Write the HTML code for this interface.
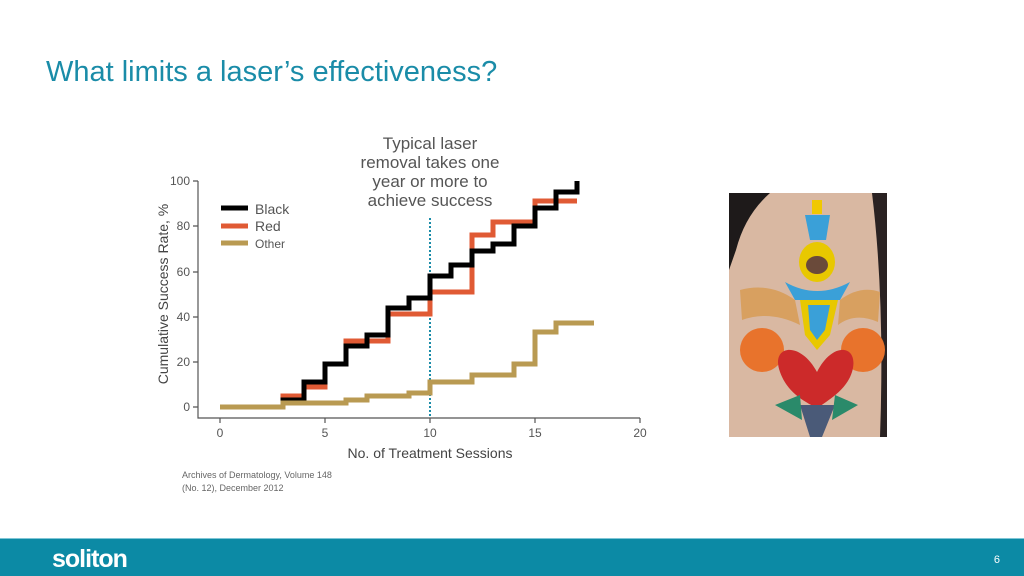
<!DOCTYPE html>
<html><head><meta charset="utf-8"><style>
html,body{margin:0;padding:0;width:1024px;height:576px;overflow:hidden;background:#fff;font-family:"Liberation Sans",sans-serif}
</style></head><body>
<svg width="1024" height="576" viewBox="0 0 1024 576" xmlns="http://www.w3.org/2000/svg" font-family="Liberation Sans, sans-serif">
<text x="46" y="81" font-size="29" fill="#1a8ca8">What limits a laser’s effectiveness?</text>
<g font-size="17" fill="#555" text-anchor="middle">
<text x="430" y="149">Typical laser</text>
<text x="430" y="168">removal takes one</text>
<text x="430" y="187">year or more to</text>
<text x="430" y="206">achieve success</text>
</g>
<g stroke="#555" stroke-width="1.2" fill="none">
<path d="M198,181 V418 H640"/>
<path d="M193,181H198M193,226H198M193,272H198M193,317H198M193,362H198M193,407H198"/>
<path d="M220,418V423M325,418V423M430,418V423M535,418V423M640,418V423"/>
</g>
<g font-size="12" fill="#555" text-anchor="end">
<text x="190" y="185">100</text><text x="190" y="230">80</text><text x="190" y="276">60</text>
<text x="190" y="321">40</text><text x="190" y="366">20</text><text x="190" y="411">0</text>
</g>
<g font-size="12" fill="#555" text-anchor="middle">
<text x="220" y="437">0</text><text x="325" y="437">5</text><text x="430" y="437">10</text><text x="535" y="437">15</text><text x="640" y="437">20</text>
</g>
<text x="430" y="458" font-size="14" fill="#444" text-anchor="middle">No. of Treatment Sessions</text>
<text transform="translate(168,294) rotate(-90)" font-size="14" fill="#444" text-anchor="middle">Cumulative Success Rate, %</text>
<line x1="430" y1="218" x2="430" y2="418" stroke="#1a8ca8" stroke-width="2" stroke-dasharray="2,2"/>
<g fill="none" stroke-width="5" stroke-linejoin="miter">
<path stroke="#e05a34" d="M220,407 H283 V396 H304 V387 H325 V364 H346 V341 H388 V314 H430 V292 H472 V235 H493 V222 H535 V201 H577"/>
<path stroke="#000" d="M220,407 H283 V400 H304 V382 H325 V364 H346 V346 H367 V335 H388 V308 H409 V298 H430 V276 H451 V265 H472 V251 H493 V244 H514 V226 H535 V208 H556 V192 H577 V181"/>
<path stroke="#b99a52" d="M220,407 H283 V403 H346 V400 H367 V396 H409 V393 H430 V382 H472 V375 H514 V364 H535 V332 H556 V323 H594"/>
</g>
<g stroke-width="5">
<line x1="221" y1="208" x2="248" y2="208" stroke="#000"/>
<line x1="221" y1="226" x2="248" y2="226" stroke="#e05a34"/>
<line x1="221" y1="243" x2="248" y2="243" stroke="#b99a52"/>
</g>
<g font-size="14" fill="#555"><text x="255" y="214">Black</text><text x="255" y="231">Red</text><text x="255" y="248" font-size="12">Other</text></g>
<text x="182" y="478" font-size="9" fill="#666">Archives of Dermatology, Volume 148</text>
<text x="182" y="491" font-size="9" fill="#666">(No. 12), December 2012</text>
<!-- photo -->
<rect x="729" y="193" width="158" height="244" fill="#d9b8a2"/>
<path d="M729,193 H770 Q745,215 736,250 L729,270 Z" fill="#1e1a1a"/>
<path d="M872,193 H887 V437 H880 Q885,300 872,193 Z" fill="#2a2222"/>
<rect x="812" y="200" width="10" height="14" fill="#f0c800"/>
<path d="M805,215 L830,215 L826,240 L810,240 Z" fill="#3aa0d8"/>
<ellipse cx="817" cy="262" rx="18" ry="20" fill="#e8c800"/>
<ellipse cx="817" cy="265" rx="11" ry="9" fill="#6a4a3a"/>
<path d="M785,282 Q817,300 850,282 L840,300 L795,300 Z" fill="#3aa0d8"/>
<path d="M740,290 Q770,282 795,300 L800,325 Q770,310 742,320 Z" fill="#d8a060"/>
<path d="M840,300 Q860,285 880,292 L878,322 Q855,312 838,325 Z" fill="#d8a060"/>
<path d="M800,300 L838,300 L830,335 L817,350 L805,335 Z" fill="#e8c800"/>
<path d="M808,305 L830,305 L825,330 L817,340 L810,330 Z" fill="#3aa0d8"/>
<circle cx="762" cy="350" r="22" fill="#e8732c"/>
<circle cx="863" cy="350" r="22" fill="#e8732c"/>
<path d="M817,372 C800,340 770,345 780,372 C790,400 817,405 817,410 C817,405 845,395 852,372 C860,345 833,340 817,372 Z" fill="#cc2a2a"/>
<path d="M800,405 L835,405 L822,437 L810,437 Z" fill="#4a5a78"/>
<path d="M775,405 L800,395 L802,420 Z" fill="#2a8a6a"/>
<path d="M858,405 L835,395 L832,420 Z" fill="#2a8a6a"/>
<!-- footer -->
<rect x="0" y="538" width="1024" height="38" fill="#0c8aa5"/>
<rect x="0" y="538" width="1024" height="1" fill="#7fc6d6"/>
<text x="52" y="567" font-size="25" font-weight="bold" fill="#fff" letter-spacing="-1">soliton</text>
<text x="1000" y="563" font-size="11" fill="#fff" text-anchor="end">6</text>
</svg>
</body></html>
